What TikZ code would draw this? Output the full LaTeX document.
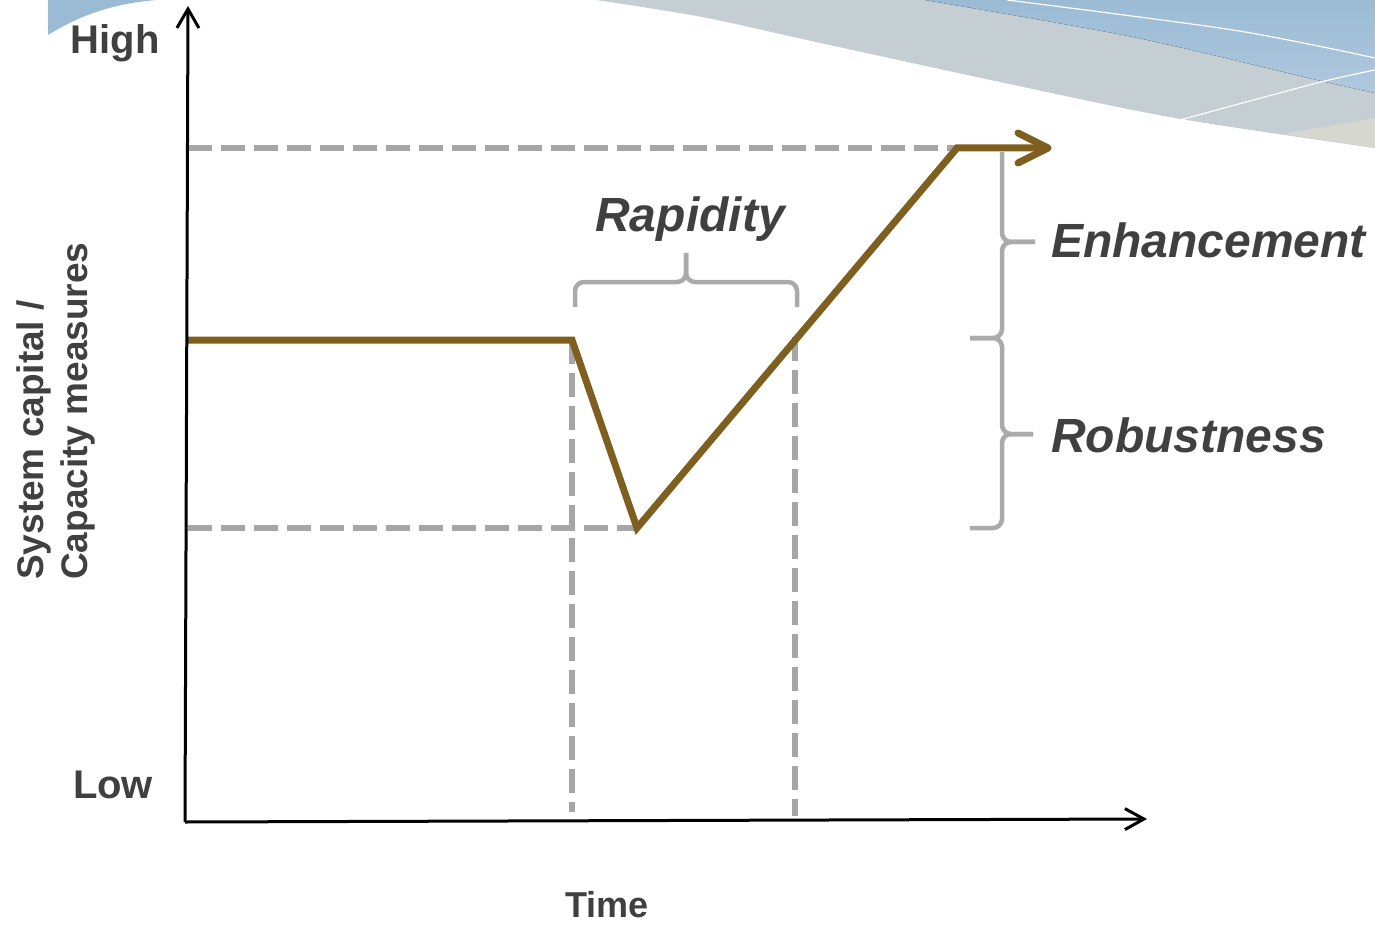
\documentclass[tikz,border=0pt]{standalone}
\usepackage{fontspec}
\setmainfont{Liberation Sans}
\usetikzlibrary{arrows.meta}

\definecolor{txtgrey}{RGB}{64,64,64}
\definecolor{guidegrey}{RGB}{166,166,166}
\definecolor{bracegrey}{RGB}{170,170,170}
\definecolor{curvebrown}{RGB}{127,95,31}
\definecolor{bandgrey}{RGB}{196,206,211}
\definecolor{bandblueA}{RGB}{155,187,213}
\definecolor{bandblueB}{RGB}{175,200,222}
\definecolor{bandbeige}{RGB}{214,215,207}

\begin{document}
\begin{tikzpicture}[x=1pt,y=-1pt,
  axisline/.style={line width=3pt, black},
  guide/.style={guidegrey, line width=6.5pt, dash pattern=on 24pt off 9pt},
  curve/.style={curvebrown, line width=7pt, line join=miter},
  bracepath/.style={bracegrey, line width=4.5pt, rounded corners=9pt},
  axlabel/.style={txtgrey, font=\fontsize{40}{48}\selectfont\bfseries, inner sep=0pt},
  termlabel/.style={txtgrey, font=\fontsize{48}{57}\selectfont\bfseries\itshape, inner sep=0pt},
]
\useasboundingbox (0,0) rectangle (1375,925);

% decorative header bands
\fill[bandblueA] (48,0) -- (48,35) .. controls (85,12) and (120,3) .. (157,0) -- cycle;
\fill[bandgrey] plot[smooth] coordinates {(596,0) (702,17) (816,42) (1000,82) (1175,118) (1375,148)} -- (1375,0) -- cycle;
\fill[top color=bandblueA, bottom color=bandblueB] plot[smooth] coordinates {(925,0) (1133,37) (1317,80) (1375,93)} -- (1375,0) -- cycle;
\fill[bandbeige] (1283,134) -- (1375,118) -- (1375,148) -- cycle;
\draw[white, line width=1.2pt] plot[smooth] coordinates {(1007,0) (1233,30) (1375,58)};
\draw[white, line width=1.2pt] plot[smooth] coordinates {(1180,120) (1317,83) (1375,70)};

% key points
\coordinate (O) at (185,822);
\coordinate (ytop) at (188,6);
\coordinate (xend) at (1147,819);
\coordinate (start) at (188,340);
\coordinate (shock) at (572,340);
\coordinate (trough) at (637,528);
\coordinate (peak) at (957,148);
\coordinate (tip) at (1048,148);
\coordinate (hiL) at (188,148);
\coordinate (loL) at (188,528);
\coordinate (v1top) at (572,340);
\coordinate (v1bot) at (572,812);
\coordinate (v2top) at (795,337);
\coordinate (v2bot) at (795,816);

% guide lines
\draw[guide] (hiL) -- (peak);
\draw[guide] (loL) -- (trough);
\draw[guide] (v1top) -- (v1bot);
\draw[guide] (v2top) -- (v2bot);

% capacity curve and its open arrowhead
\draw[curve] (start) -- (shock) -- (trough) -- (peak) -- (tip);
\draw[curvebrown, line width=7pt, line cap=round, line join=round]
  (tip) -- ++(-30,-15) (tip) -- ++(-30,15);

% axes
\draw[axisline, -{Straight Barb[length=19pt,width=22pt]}] (O) -- (ytop);
\draw[axisline, -{Straight Barb[length=19pt,width=21pt]}] (O) -- (xend);

% rapidity brace
\coordinate (rL) at (575,307);
\coordinate (rR) at (797,307);
\coordinate (rM) at (686,282);
\coordinate (rT) at (686,253);
\draw[bracepath] (rL) -- (575,282) -- (rM) -- (rT);
\draw[bracepath] (rR) -- (797,282) -- (rM) -- (rT);

% enhancement and robustness braces
\coordinate (eTop) at (1002,152);
\coordinate (eTip) at (1035,242);
\coordinate (mid) at (970,338);
\coordinate (rbTip) at (1033,434);
\coordinate (rbBot) at (970,528);
\draw[bracepath] (eTop) -- (1002,242) -- (eTip);
\draw[bracepath] (mid) -- (1002,338) -- (1002,242) -- (eTip);
\draw[bracepath] (mid) -- (1002,338) -- (1002,434) -- (rbTip);
\draw[bracepath] (rbBot) -- (1002,528) -- (1002,434) -- (rbTip);

% labels
\node[axlabel] (high) at (115,43) {High};
\node[axlabel] (low) at (113,785) {Low};
\node[axlabel, font=\fontsize{36}{43}\selectfont\bfseries] (time) at (607,905) {Time};
\node[axlabel, font=\fontsize{37}{44}\selectfont\bfseries, rotate=90, anchor=west, align=left] (ylab) at (56,580) {System capital /\\Capacity measures};
\node[termlabel] (rapid) at (690,219) {Rapidity};
\node[termlabel, anchor=west] (enh) at (1051,240) {Enhancement};
\node[termlabel, anchor=west] (rob) at (1051,435) {Robustness};
\end{tikzpicture}
\end{document}
